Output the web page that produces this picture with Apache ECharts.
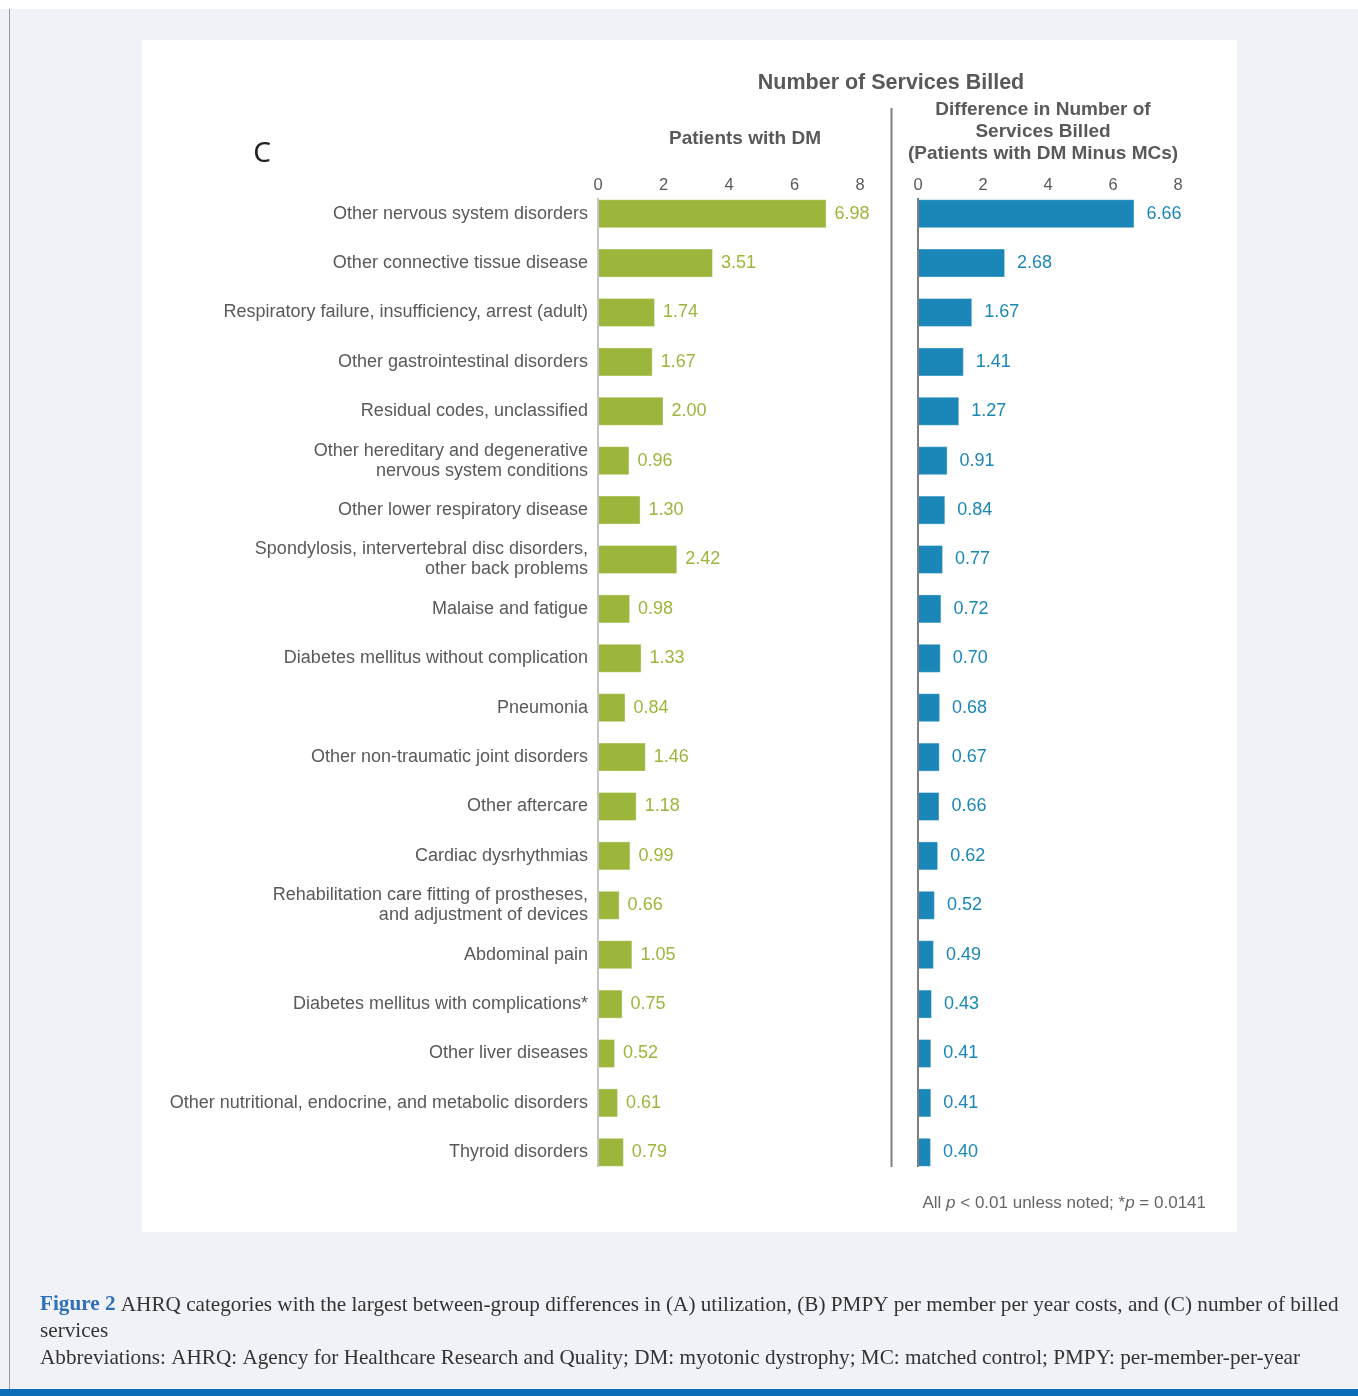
<!DOCTYPE html>
<html>
<head>
<meta charset="utf-8">
<script src="https://cdn.jsdelivr.net/npm/echarts@6/dist/echarts.min.js"></script>
<style>
  html, body { margin: 0; padding: 0; background: #ffffff; }
  #chart { width: 1358px; height: 1396px; }
</style>
</head>
<body>
<div id="chart"></div>
<script>
// AHRQ categories, listed top to bottom
const categories = [
  'Other nervous system disorders',
  'Other connective tissue disease',
  'Respiratory failure, insufficiency, arrest (adult)',
  'Other gastrointestinal disorders',
  'Residual codes, unclassified',
  'Other hereditary and degenerative\nnervous system conditions',
  'Other lower respiratory disease',
  'Spondylosis, intervertebral disc disorders,\nother back problems',
  'Malaise and fatigue',
  'Diabetes mellitus without complication',
  'Pneumonia',
  'Other non-traumatic joint disorders',
  'Other aftercare',
  'Cardiac dysrhythmias',
  'Rehabilitation care fitting of prostheses,\nand adjustment of devices',
  'Abdominal pain',
  'Diabetes mellitus with complications*',
  'Other liver diseases',
  'Other nutritional, endocrine, and metabolic disorders',
  'Thyroid disorders'
];

// Number of services billed, patients with DM
const dmServices = [6.98, 3.51, 1.74, 1.67, 2.00, 0.96, 1.30, 2.42, 0.98, 1.33,
                    0.84, 1.46, 1.18, 0.99, 0.66, 1.05, 0.75, 0.52, 0.61, 0.79];

// Difference in services billed, DM minus matched controls
const diffServices = [6.66, 2.68, 1.67, 1.41, 1.27, 0.91, 0.84, 0.77, 0.72, 0.70,
                      0.68, 0.67, 0.66, 0.62, 0.52, 0.49, 0.43, 0.41, 0.41, 0.40];

// Value axis range and tick step (ticks 0, 2, 4, 6, 8)
const axisMin = 0;
const axisMax = 8;
const axisStep = 2;

const GREEN = '#9bb63b';
const BLUE = '#1a87b8';
const TEXT = '#595959';
const FONT = '"Liberation Sans", Arial, sans-serif';
const SERIF = '"Liberation Serif", "DejaVu Serif", serif';

const chart = echarts.init(document.getElementById('chart'), null, { renderer: 'canvas' });

const gridTop = 189;
const gridHeight = 988;

function valueAxis(gridIndex) {
  return {
    type: 'value', gridIndex: gridIndex, position: 'top',
    min: axisMin, max: axisMax, interval: axisStep,
    axisLine: { show: false }, axisTick: { show: false }, splitLine: { show: false },
    axisLabel: { color: TEXT, fontFamily: FONT, fontSize: 16.5, margin: -5 }
  };
}

function categoryAxis(gridIndex, showLabels) {
  return {
    type: 'category', gridIndex: gridIndex, data: categories, inverse: true,
    axisLine: { show: false },
    axisTick: { show: false },
    axisLabel: {
      show: showLabels, color: TEXT, fontFamily: FONT, fontSize: 18,
      lineHeight: 20, margin: 10, align: 'right'
    }
  };
}

function barSeries(idx, values, color, dist) {
  return {
    type: 'bar', xAxisIndex: idx, yAxisIndex: idx, data: values,
    barWidth: 29,
    itemStyle: { color: color, borderColor: 'rgba(255,255,255,0.35)', borderWidth: 1 },
    label: {
      show: true, position: 'right', distance: dist, color: color,
      fontFamily: FONT, fontSize: 18,
      formatter: p => p.value.toFixed(2)
    },
    silent: true, animation: false
  };
}

const option = {
  animation: false,
  backgroundColor: 'transparent',
  grid: [
    { left: 598, width: 262, top: gridTop, height: gridHeight },
    { left: 918, width: 260, top: gridTop, height: gridHeight }
  ],
  xAxis: [valueAxis(0), valueAxis(1)],
  yAxis: [categoryAxis(0, true), categoryAxis(1, false)],
  series: [
    barSeries(0, dmServices, GREEN, 8),
    barSeries(1, diffServices, BLUE, 12)
  ],
  graphic: [
    // page background and figure frame
    { type: 'rect', z: -20, silent: true, shape: { x: 0, y: 9, width: 1358, height: 1380 }, style: { fill: '#f1f2f7' } },
    { type: 'rect', z: -19, silent: true, shape: { x: 142, y: 40, width: 1095, height: 1192 }, style: { fill: '#ffffff' } },
    { type: 'line', z: -18, silent: true, shape: { x1: 9.5, y1: 9, x2: 9.5, y2: 1389 }, style: { stroke: '#9a9a9a', lineWidth: 1 } },
    { type: 'rect', z: -18, silent: true, shape: { x: 0, y: 1389, width: 1358, height: 7 }, style: { fill: '#0b6db7' } },
    // category axis baselines (span the bars only)
    { type: 'line', z: 5, silent: true, shape: { x1: 598, y1: 198, x2: 598, y2: 1167 }, style: { stroke: '#c4c4c4', lineWidth: 2 } },
    { type: 'line', z: 5, silent: true, shape: { x1: 918, y1: 198, x2: 918, y2: 1167 }, style: { stroke: '#7f7f7f', lineWidth: 2 } },
    // divider between the two panels
    { type: 'line', silent: true, shape: { x1: 891.5, y1: 108, x2: 891.5, y2: 1167 }, style: { stroke: '#7f7f7f', lineWidth: 2 } },
    // panel letter
    { type: 'text', silent: true, x: 262, y: 154, style: {
        text: 'C', fill: '#222222', font: '28px "Noto Sans", "Open Sans", sans-serif',
        align: 'center', verticalAlign: 'middle' } },
    // headings
    { type: 'text', silent: true, x: 891, y: 83, style: {
        text: 'Number of Services Billed', fill: TEXT, font: 'bold 21.5px ' + FONT,
        align: 'center', verticalAlign: 'middle' } },
    { type: 'text', silent: true, x: 745, y: 139, style: {
        text: 'Patients with DM', fill: TEXT, font: 'bold 19px ' + FONT,
        align: 'center', verticalAlign: 'middle' } },
    { type: 'text', silent: true, x: 1043, y: 132, style: {
        text: 'Difference in Number of\nServices Billed\n(Patients with DM Minus MCs)',
        fill: TEXT, font: 'bold 19px ' + FONT, lineHeight: 22,
        align: 'center', verticalAlign: 'middle' } },
    // footnote
    { type: 'text', silent: true, x: 1206, y: 1203, style: {
        text: 'All {i|p} < 0.01 unless noted; *{i|p} = 0.0141',
        fill: '#666666', font: '17px ' + FONT, align: 'right', verticalAlign: 'middle',
        rich: { i: { fontStyle: 'italic', fontSize: 17, fontFamily: FONT, fill: '#666666' } } } },
    // figure caption
    { type: 'text', silent: true, x: 40, y: 1305, style: {
        text: '{b|Figure 2} AHRQ categories with the largest between-group differences in (A) utilization, (B) PMPY per member per year costs, and (C) number of billed',
        fill: '#333333', font: '21.2px ' + SERIF, verticalAlign: 'middle',
        rich: { b: { fontWeight: 'bold', fill: '#2f70b8', fontSize: 21.2, fontFamily: SERIF } } } },
    { type: 'text', silent: true, x: 40, y: 1331, style: {
        text: 'services', fill: '#333333', font: '21.2px ' + SERIF, verticalAlign: 'middle' } },
    { type: 'text', silent: true, x: 40, y: 1358, style: {
        text: 'Abbreviations: AHRQ: Agency for Healthcare Research and Quality; DM: myotonic dystrophy; MC: matched control; PMPY: per-member-per-year',
        fill: '#333333', font: '21.2px ' + SERIF, verticalAlign: 'middle' } }
  ]
};

chart.setOption(option);
</script>
</body>
</html>
